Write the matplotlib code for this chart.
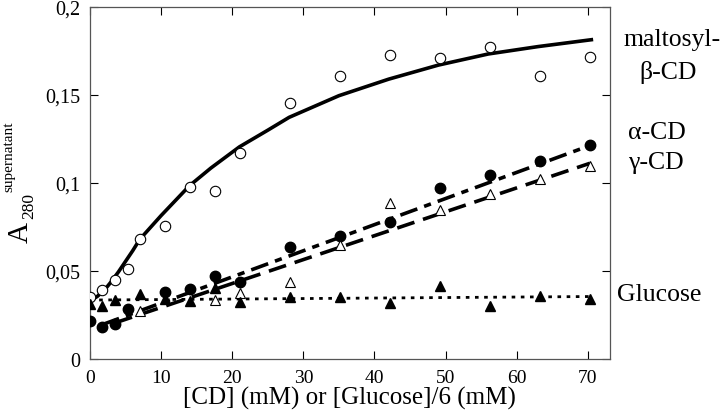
import matplotlib
matplotlib.use('Agg')
import matplotlib.pyplot as plt

plt.rcParams['font.family'] = ['Liberation Serif', 'DejaVu Serif']

# maltosyl-beta-CD (open circles)
x_malt = [0, 1.7, 3.5, 5.3, 7.0, 10.5, 14.1, 17.6, 21.1, 28.1, 35.2, 42.2, 49.2, 56.3, 63.3, 70.3]
y_malt = [0.0352, 0.0394, 0.045, 0.051, 0.068, 0.0755, 0.0977, 0.0955, 0.117, 0.1456, 0.1608,
          0.1727, 0.1708, 0.177, 0.161, 0.1714]
# fitted curve through maltosyl points
x_malt_fit = [0, 1, 2, 3, 4, 5, 6, 7, 8, 10, 12, 14, 17, 21, 25, 28, 35, 42, 49, 56, 63, 70.5]
y_malt_fit = [0.033, 0.0355, 0.039, 0.044, 0.0495, 0.0555, 0.0615, 0.068, 0.0725, 0.0815, 0.090,
              0.0985, 0.1085, 0.1205, 0.130, 0.1373, 0.1496, 0.159, 0.167, 0.1733, 0.1775, 0.1814]

# alpha-CD (filled circles)
x_alpha = [0, 1.7, 3.5, 5.3, 10.5, 14.1, 17.6, 21.1, 28.1, 35.2, 42.2, 49.2, 56.3, 63.3, 70.3]
y_alpha = [0.0215, 0.018, 0.020, 0.0286, 0.038, 0.0398, 0.0472, 0.0435, 0.0638, 0.0697, 0.078,
           0.097, 0.1045, 0.1127, 0.1216]
x_alpha_fit = [1.7, 70.5]
y_alpha_fit = [0.0195, 0.1216]

# gamma-CD (open triangles)
x_gamma = [7.0, 17.6, 21.1, 28.1, 35.2, 42.2, 49.2, 56.3, 63.3, 70.3]
y_gamma = [0.027, 0.0337, 0.0375, 0.044, 0.0648, 0.0886, 0.0847, 0.094, 0.1023, 0.1098]
x_gamma_fit = [3.5, 70.3]
y_gamma_fit = [0.0205, 0.1112]

# glucose (filled triangles)
x_glc = [0, 1.7, 3.5, 7.0, 10.5, 14.1, 17.6, 21.1, 28.1, 35.2, 42.2, 49.2, 56.3, 63.3, 70.3]
y_glc = [0.031, 0.030, 0.0335, 0.037, 0.034, 0.0331, 0.0402, 0.0322, 0.035, 0.0355, 0.032,
         0.0417, 0.030, 0.0356, 0.034]
x_glc_fit = [0, 70.3]
y_glc_fit = [0.0335, 0.0355]

xticks = [0, 10, 20, 30, 40, 50, 60, 70]
yticks = [0, 0.05, 0.1, 0.15, 0.2]
ytick_labels = ['0', '0,05', '0,1', '0,15', '0,2']

fig = plt.figure(figsize=(7.2, 4.14), dpi=100)
ax = fig.add_axes([0.125, 0.1304, 0.722, 0.8503])

ax.plot(x_malt_fit, y_malt_fit, '-', color='black', lw=2.6, zorder=2)
ax.plot(x_alpha_fit, y_alpha_fit, color='black', lw=2.6, dashes=(5, 2, 2, 2), zorder=2)
ax.plot(x_gamma_fit, y_gamma_fit, color='black', lw=2.6, dashes=(5, 2.5), zorder=2)
ax.plot(x_glc_fit, y_glc_fit, color='black', lw=2.0, dashes=(1.3, 2.0), zorder=2)

ax.plot(x_malt, y_malt, 'o', ms=7.5, mfc='white', mec='black', mew=0.8, ls='none', zorder=3)
ax.plot(x_alpha, y_alpha, 'o', ms=7.5, color='black', ls='none', zorder=3)
ax.plot(x_gamma, y_gamma, '^', ms=7.5, mfc='white', mec='black', mew=0.8, ls='none', zorder=3)
ax.plot(x_glc, y_glc, '^', ms=7.5, color='black', ls='none', zorder=3)

ax.set_xlim(0, 73.1)
ax.set_ylim(0, 0.2)
ax.set_xticks(xticks)
ax.set_yticks(yticks)
ax.set_yticklabels(ytick_labels)
ax.tick_params(direction='in', length=6, width=0.8, top=True, right=True,
               labelsize=14.5, colors='black')
ax.tick_params(axis='x', pad=7, labelsize=14)
ax.tick_params(axis='y', pad=7)
for s in ax.spines.values():
    s.set_linewidth(0.9)
    s.set_color('#555555')

ax.set_xlabel('[CD] (mM) or [Glucose]/6 (mM)', fontsize=18, labelpad=0)

W, H = 720, 414
def ft(px, py, s, **kw):
    fig.text(px / W, 1 - py / H, s, **kw)

ft(21, 233, 'A', fontsize=21, rotation=90, ha='center', va='center')
ft(29, 206, '280', fontsize=12.5, rotation=90, ha='center', va='center')
ft(9, 157, 'supernatant', fontsize=11, rotation=90, ha='center', va='center')

ft(623, 40, 'maltosyl-', fontsize=18.5, ha='left', va='center')
ft(668, 72, 'β-CD', fontsize=18.5, ha='center', va='center')
ft(628, 133, 'α-CD', fontsize=18.5, ha='left', va='center')
ft(628, 163, 'γ-CD', fontsize=18.5, ha='left', va='center')
ft(617, 295, 'Glucose', fontsize=18.5, ha='left', va='center')

fig.savefig('out.png', dpi=100)
